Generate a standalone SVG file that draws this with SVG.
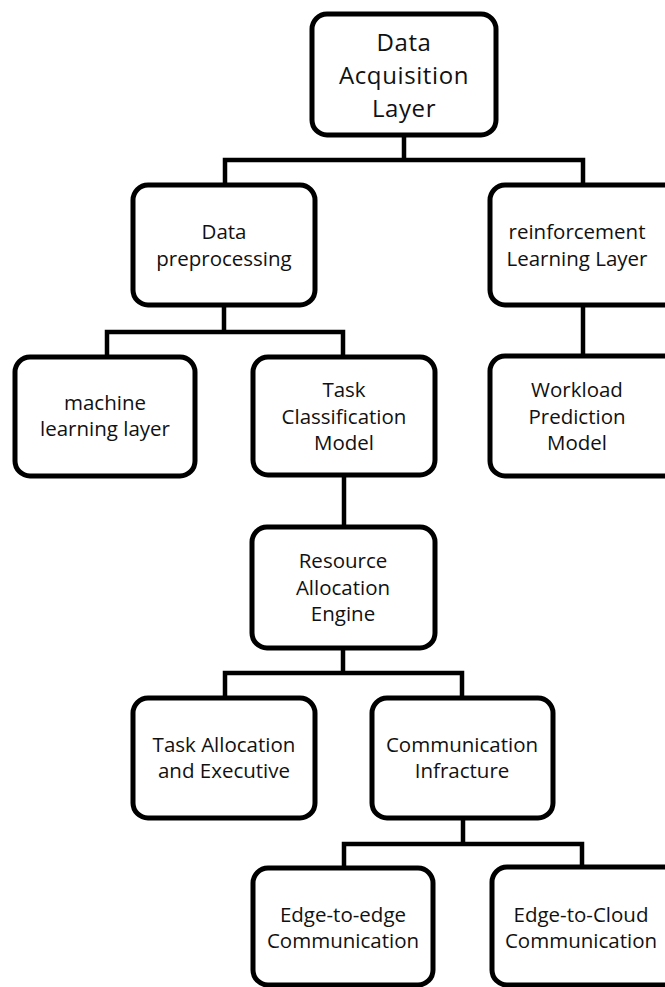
<svg xmlns="http://www.w3.org/2000/svg" width="665" height="987" viewBox="0 0 665 987">
<style>
.box{fill:#fff;stroke:#000;stroke-width:5}
.lbl{font-family:"Open Sans","Noto Sans",sans-serif;font-size:20.5px;fill:#111;text-anchor:middle}
.big{font-size:24px;letter-spacing:0.6px}
.conn{fill:none;stroke:#000;stroke-width:4.5;stroke-linejoin:miter;stroke-linecap:square}
</style>
<rect width="665" height="987" fill="#fff"/>
<g id="connectors">
<path class="conn" d="M404,135V160M225,185V160H583V185"/>
<path class="conn" d="M224,305V332M107,357V332H343V357"/>
<path class="conn" d="M583,305V357"/>
<path class="conn" d="M344,475V527"/>
<path class="conn" d="M343,648V673M225,698V673H462V698"/>
<path class="conn" d="M463,818V844M344,868V844H582V868"/>
</g>
<g id="n-data-acquisition">
<rect class="box" x="312" y="14" width="184" height="121" rx="15"/>
<text class="lbl big" x="404" y="51">Data</text>
<text class="lbl big" x="404" y="84">Acquisition</text>
<text class="lbl big" x="404" y="117">Layer</text>
</g>
<g id="n-data-preprocessing">
<rect class="box" x="133" y="185" width="182" height="120" rx="15"/>
<text class="lbl" x="224" y="239">Data</text>
<text class="lbl" x="224" y="266">preprocessing</text>
</g>
<g id="n-reinforcement">
<rect class="box" x="490" y="185" width="200" height="120" rx="15"/>
<text class="lbl" x="577" y="239">reinforcement</text>
<text class="lbl" x="577" y="266">Learning Layer</text>
</g>
<g id="n-machine-learning">
<rect class="box" x="15" y="357" width="180" height="119" rx="15"/>
<text class="lbl" x="105" y="410">machine</text>
<text class="lbl" x="105" y="436">learning layer</text>
</g>
<g id="n-task-classification">
<rect class="box" x="253" y="357" width="182" height="118" rx="15"/>
<text class="lbl" x="344" y="397">Task</text>
<text class="lbl" x="344" y="424">Classification</text>
<text class="lbl" x="344" y="450">Model</text>
</g>
<g id="n-workload">
<rect class="box" x="490" y="356" width="200" height="120" rx="15"/>
<text class="lbl" x="577" y="397">Workload</text>
<text class="lbl" x="577" y="424">Prediction</text>
<text class="lbl" x="577" y="450">Model</text>
</g>
<g id="n-resource-allocation">
<rect class="box" x="252" y="527" width="183" height="121" rx="15"/>
<text class="lbl" x="343" y="568">Resource</text>
<text class="lbl" x="343" y="595">Allocation</text>
<text class="lbl" x="343" y="621">Engine</text>
</g>
<g id="n-task-allocation">
<rect class="box" x="133" y="698" width="182" height="120" rx="15"/>
<text class="lbl" x="224" y="752">Task Allocation</text>
<text class="lbl" x="224" y="778">and Executive</text>
</g>
<g id="n-communication">
<rect class="box" x="372" y="698" width="181" height="120" rx="15"/>
<text class="lbl" x="462" y="752">Communication</text>
<text class="lbl" x="462" y="778">Infracture</text>
</g>
<g id="n-edge-to-edge">
<rect class="box" x="253" y="868" width="180" height="117" rx="15"/>
<text class="lbl" x="343" y="922">Edge-to-edge</text>
<text class="lbl" x="343" y="948">Communication</text>
</g>
<g id="n-edge-to-cloud">
<rect class="box" x="492" y="867" width="200" height="118" rx="15"/>
<text class="lbl" x="581" y="922">Edge-to-Cloud</text>
<text class="lbl" x="581" y="948">Communication</text>
</g>
</svg>
